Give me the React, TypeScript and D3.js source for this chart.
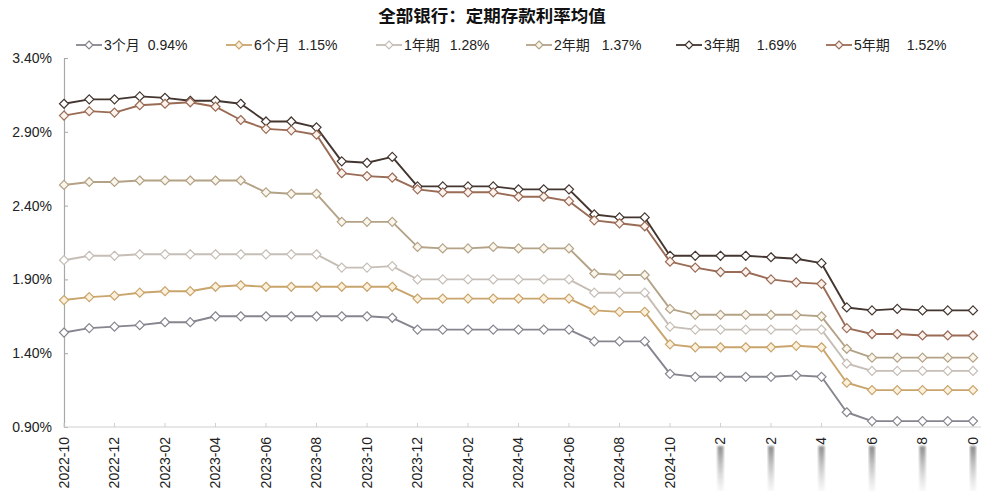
import { useEffect, useRef } from "react";
import * as d3 from "d3";

// months on the x axis
const months = [
  "2022-10", "2022-11", "2022-12", "2023-01", "2023-02", "2023-03", "2023-04",
  "2023-05", "2023-06", "2023-07", "2023-08", "2023-09", "2023-10", "2023-11",
  "2023-12", "2024-01", "2024-02", "2024-03", "2024-04", "2024-05", "2024-06",
  "2024-07", "2024-08", "2024-09", "2024-10", "2024-11", "2024-12", "2025-01",
  "2025-02", "2025-03", "2025-04", "2025-05", "2025-06", "2025-07", "2025-08",
  "2025-09", "2025-10",
];

const m3 = [
  1.54, 1.57, 1.58, 1.59, 1.61, 1.61, 1.65, 1.65, 1.65, 1.65, 1.65, 1.65, 1.65,
  1.64, 1.56, 1.56, 1.56, 1.56, 1.56, 1.56, 1.56, 1.48, 1.48, 1.48, 1.26, 1.24,
  1.24, 1.24, 1.24, 1.25, 1.24, 1.0, 0.94, 0.94, 0.94, 0.94, 0.94,
];
const m6 = [
  1.76, 1.78, 1.79, 1.81, 1.82, 1.82, 1.85, 1.86, 1.85, 1.85, 1.85, 1.85, 1.85,
  1.85, 1.77, 1.77, 1.77, 1.77, 1.77, 1.77, 1.77, 1.69, 1.68, 1.68, 1.46, 1.44,
  1.44, 1.44, 1.44, 1.45, 1.44, 1.2, 1.15, 1.15, 1.15, 1.15, 1.15,
];
const y1 = [
  2.03, 2.06, 2.06, 2.07, 2.07, 2.07, 2.07, 2.07, 2.07, 2.07, 2.07, 1.98, 1.98,
  1.99, 1.9, 1.9, 1.9, 1.9, 1.9, 1.9, 1.9, 1.81, 1.81, 1.81, 1.58, 1.56, 1.56,
  1.56, 1.56, 1.56, 1.56, 1.33, 1.28, 1.28, 1.28, 1.28, 1.28,
];
const y2 = [
  2.54, 2.56, 2.56, 2.57, 2.57, 2.57, 2.57, 2.57, 2.49, 2.48, 2.48, 2.29, 2.29,
  2.29, 2.12, 2.11, 2.11, 2.12, 2.11, 2.11, 2.11, 1.94, 1.93, 1.93, 1.7, 1.66,
  1.66, 1.66, 1.66, 1.66, 1.65, 1.43, 1.37, 1.37, 1.37, 1.37, 1.37,
];
const y3 = [
  3.09, 3.12, 3.12, 3.14, 3.13, 3.11, 3.11, 3.09, 2.97, 2.97, 2.93, 2.7, 2.69,
  2.73, 2.53, 2.53, 2.53, 2.53, 2.51, 2.51, 2.51, 2.34, 2.32, 2.32, 2.06, 2.06,
  2.06, 2.06, 2.05, 2.04, 2.01, 1.71, 1.69, 1.7, 1.69, 1.69, 1.69,
];
const y5 = [
  3.01, 3.04, 3.03, 3.08, 3.09, 3.1, 3.07, 2.98, 2.92, 2.91, 2.88, 2.62, 2.6,
  2.59, 2.51, 2.49, 2.49, 2.49, 2.46, 2.46, 2.43, 2.3, 2.28, 2.26, 2.02, 1.98,
  1.95, 1.95, 1.9, 1.88, 1.87, 1.57, 1.53, 1.53, 1.52, 1.52, 1.52,
];

const seriesNames = ["3个月", "6个月", "1年期", "2年期", "3年期", "5年期"];
const seriesValues = [m3, m6, y1, y2, y3, y5];
const latestLabels = ["0.94%", "1.15%", "1.28%", "1.37%", "1.69%", "1.52%"];
const yTicks = [0.9, 1.4, 1.9, 2.4, 2.9, 3.4];

const colors = ["#85858f", "#c9a46c", "#c6beb6", "#b3a286", "#43352f", "#9a6b55"];
const fills = ["#ffffff", "#fcf1dc", "#ffffff", "#fbf6ec", "#ffffff", "#fdf3ee"];
// gaps between legend name and value
const valueGaps = [8, 8, 10, 12, 17, 17];

const FONT = '"Liberation Sans", Arial, "Noto Sans CJK SC", sans-serif';

const App = () => {
  const ref = useRef(null);

  useEffect(() => {
    if (!ref.current) return;
    d3.select(ref.current).selectAll("*").remove();

    const width = 1000;
    const height = 499;
    const left = 64;
    const right = 973;
    const top = 58;
    const bottom = 427;

    const svg = d3
      .select(ref.current)
      .append("svg")
      .attr("width", width)
      .attr("height", height)
      .style("display", "block")
      .style("font-family", FONT)
      .style("background", "#fff");

    const x = d3.scalePoint().domain(months).range([left, right]);
    const y = d3.scaleLinear().domain([0.9, 3.4]).range([bottom, top]);

    // title
    svg
      .append("text")
      .attr("x", 492)
      .attr("y", 22)
      .attr("text-anchor", "middle")
      .style("font-size", "17.5px")
      .style("font-weight", "bold")
      .style("fill", "#111")
      .text("全部银行：定期存款利率均值");

    // legend
    const diamond = d3.symbol().type(d3.symbolDiamond2).size(52);
    const legend = svg.append("g").attr("transform", "translate(76, 45)");
    seriesNames.forEach((name, i) => {
      const g = legend.append("g").attr("transform", `translate(${i * 150}, 0)`);
      g.append("line")
        .attr("x1", 0)
        .attr("x2", 26)
        .attr("stroke", colors[i])
        .attr("stroke-width", 1.8);
      g.append("path")
        .attr("d", d3.symbol().type(d3.symbolDiamond2).size(40))
        .attr("transform", "translate(13, 0)")
        .attr("fill", fills[i])
        .attr("stroke", colors[i])
        .attr("stroke-width", 1.2);
      const t = g
        .append("text")
        .attr("x", 28)
        .attr("dy", "0.35em")
        .style("font-size", "14px")
        .style("fill", "#222");
      t.append("tspan").text(name);
      t.append("tspan").attr("dx", valueGaps[i]).text(latestLabels[i]);
    });

    // y axis
    const yAxis = svg
      .append("g")
      .attr("transform", `translate(${left}, 0)`)
      .call(
        d3
          .axisLeft(y)
          .tickValues(yTicks)
          .tickSize(-4)
          .tickPadding(12)
          .tickFormat((d) => `${d3.format(".2f")(d)}%`)
      );
    yAxis.select(".domain").attr("stroke", "#a8a8a8").attr("stroke-width", 1.2);
    yAxis.selectAll(".tick line").attr("stroke", "#a8a8a8");
    yAxis
      .selectAll(".tick text")
      .style("font-size", "14px")
      .style("font-family", FONT)
      .style("fill", "#222");

    // x axis
    const tickMonths = months.filter((_, i) => i % 2 === 0);
    const cutFrom = months.indexOf("2024-12");
    svg
      .append("line")
      .attr("x1", left)
      .attr("x2", right + 8)
      .attr("y1", bottom)
      .attr("y2", bottom)
      .attr("stroke", "#d0d0d0")
      .attr("stroke-width", 1.2);

    const defs = svg.append("defs");
    const grad = defs
      .append("linearGradient")
      .attr("id", "smear")
      .attr("x1", 0)
      .attr("x2", 0)
      .attr("y1", 0)
      .attr("y2", 1);
    grad.append("stop").attr("offset", "0%").attr("stop-color", "#666").attr("stop-opacity", 0.75);
    grad.append("stop").attr("offset", "100%").attr("stop-color", "#aaa").attr("stop-opacity", 0);
    const blur = defs.append("filter").attr("id", "soft");
    blur.append("feGaussianBlur").attr("stdDeviation", 0.8);

    tickMonths.forEach((m) => {
      const px = x(m);
      svg
        .append("line")
        .attr("x1", px)
        .attr("x2", px)
        .attr("y1", bottom)
        .attr("y2", bottom - 4)
        .attr("stroke", "#d0d0d0");
      const cut = months.indexOf(m) >= cutFrom;
      if (cut) {
        svg
          .append("rect")
          .attr("x", px - 3)
          .attr("y", 446)
          .attr("width", 6)
          .attr("height", 50)
          .attr("fill", "url(#smear)")
          .attr("filter", "url(#soft)");
      }
      svg
        .append("text")
        .attr("transform", `translate(${px}, 437) rotate(-90)`)
        .attr("text-anchor", "end")
        .attr("dy", "0.35em")
        .style("font-size", "14px")
        .style("fill", "#222")
        .text(cut ? m.slice(-1) : m);
    });

    // lines
    const line = d3
      .line()
      .x((_, i) => x(months[i]))
      .y((d) => y(d));

    seriesValues.forEach((vals, si) => {
      const g = svg.append("g");
      g.append("path")
        .attr("d", line(vals))
        .attr("fill", "none")
        .attr("stroke", colors[si])
        .attr("stroke-width", 1.9)
        .attr("stroke-linejoin", "round");
      g.selectAll("path.mark")
        .data(vals)
        .enter()
        .append("path")
        .attr("class", "mark")
        .attr("d", diamond)
        .attr("transform", (d, i) => `translate(${x(months[i])}, ${y(d)})`)
        .attr("fill", fills[si])
        .attr("stroke", colors[si])
        .attr("stroke-width", 1.2);
    });
  }, []);

  return <div ref={ref} style={{ width: 1000, height: 499, margin: -8 }}></div>;
};

export default App;
